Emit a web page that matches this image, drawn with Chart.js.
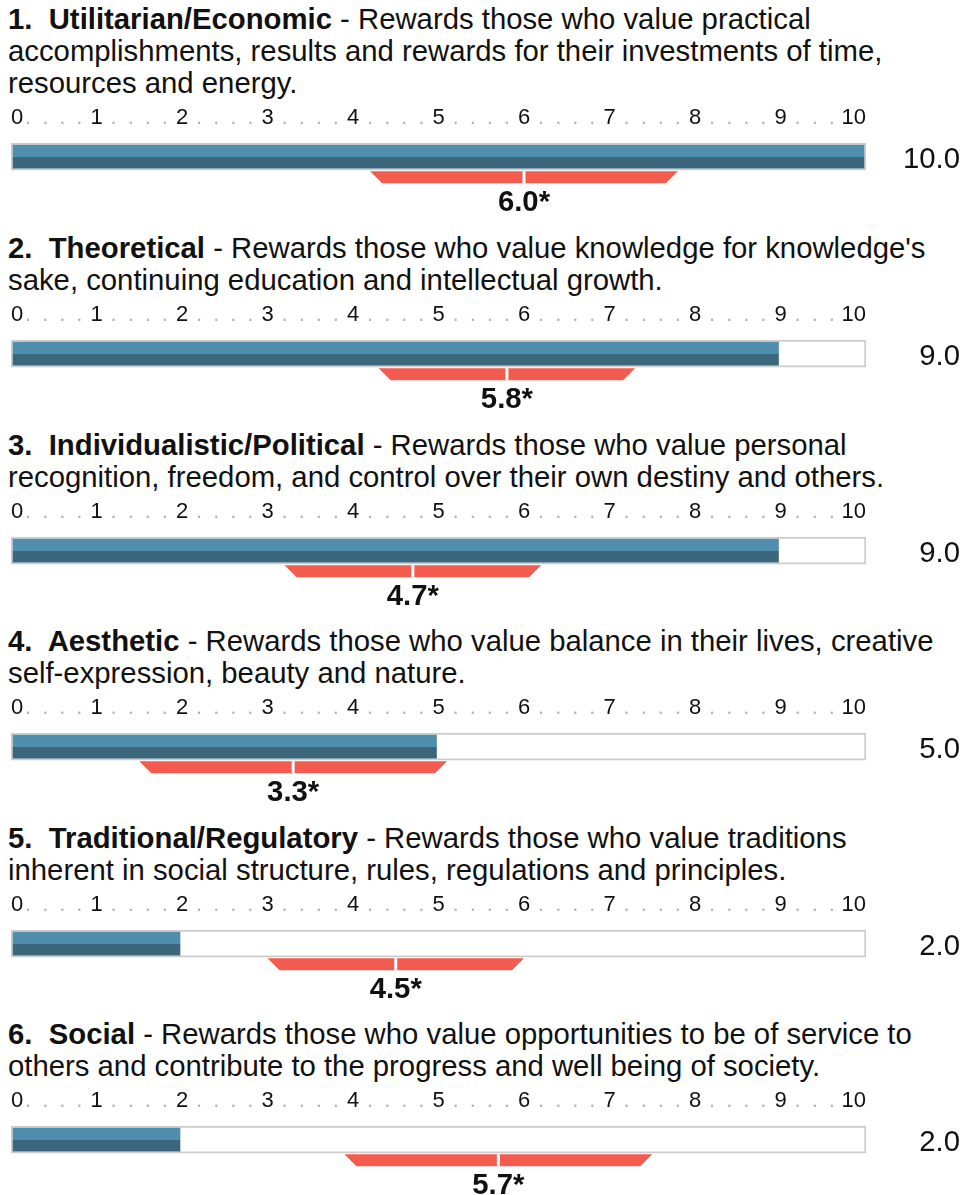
<!DOCTYPE html>
<html>
<head>
<meta charset="utf-8">
<script src="https://cdn.jsdelivr.net/npm/chart.js@4.4.1/dist/chart.umd.min.js"></script>
<style>
  body { margin: 0; background: #fff; width: 964px; height: 1195px; position: relative; overflow: hidden;
         font-family: "Liberation Sans", Arial, sans-serif; color: #111; }
  .head { position: absolute; left: 8px; font-size: 29.3px; line-height: 32px; white-space: pre; transform: translateY(-100%); }
  canvas { position: absolute; left: 0; }
</style>
</head>
<body>
<script>
// Dimensions et descriptions
const categories = [
    'Utilitarian/Economic',
    'Theoretical',
    'Individualistic/Political',
    'Aesthetic',
    'Traditional/Regulatory',
    'Social'
];
const descriptions = [
    'Rewards those who value practical\naccomplishments, results and rewards for their investments of time,\nresources and energy.',
    "Rewards those who value knowledge for knowledge's\nsake, continuing education and intellectual growth.",
    'Rewards those who value personal\nrecognition, freedom, and control over their own destiny and others.',
    'Rewards those who value balance in their lives, creative\nself-expression, beauty and nature.',
    'Rewards those who value traditions\ninherent in social structure, rules, regulations and principles.',
    'Rewards those who value opportunities to be of service to\nothers and contribute to the progress and well being of society.'
];

// Valeurs
const scores = [10, 9, 9, 5, 2, 2];
const means = [6.0, 5.8, 4.7, 3.3, 4.5, 5.7];
const rangeLow = [4.2, 4.3, 3.2, 1.5, 3.0, 3.9];
const rangeHigh = [7.8, 7.3, 6.2, 5.1, 6.0, 7.5];
const tickLabels = ['0', '1', '2', '3', '4', '5', '6', '7', '8', '9', '10'];

const maxScore = tickLabels.length - 1;
const rowY = [117, 314, 511, 707, 904, 1100]; // centre de la ligne des graduations

const LIGHT = '#4f8fad';
const DARK = '#3a677c';
const RED = '#f35b4e';
const FONT = '"Liberation Sans", Arial, sans-serif';

Chart.defaults.font.family = FONT;

// Trapèze rouge, moyenne et valeur à droite
const rangePlugin = {
    id: 'rangeMark',
    afterDatasetsDraw(chart, args, opts) {
        const i = opts.row;
        const x = chart.scales.x;
        const yc = chart.scales.y.getPixelForValue(0);
        const ctx = chart.ctx;
        const top = yc + 14.5, h = 12, inset = 12;
        const xl = x.getPixelForValue(rangeLow[i]);
        const xr = x.getPixelForValue(rangeHigh[i]);
        const xm = x.getPixelForValue(means[i]);

        ctx.save();
        ctx.fillStyle = RED;
        ctx.beginPath();
        ctx.moveTo(xl, top);
        ctx.lineTo(xr, top);
        ctx.lineTo(xr - inset, top + h);
        ctx.lineTo(xl + inset, top + h);
        ctx.closePath();
        ctx.fill();

        ctx.fillStyle = '#fff';
        ctx.fillRect(xm - 1.5, top, 3, h);

        ctx.fillStyle = '#111';
        ctx.textBaseline = 'middle';
        ctx.textAlign = 'center';
        ctx.font = 'bold 29.3px ' + FONT;
        ctx.fillText(means[i].toFixed(1) + '*', xm, top + h + 19.5);

        ctx.textAlign = 'right';
        ctx.font = '29.3px ' + FONT;
        ctx.fillText(scores[i].toFixed(1), chart.width - 4, yc + 3.5);
        ctx.restore();
    }
};

function isWhole(v) {
    return Math.abs(v - Math.round(v)) < 1e-6;
}

// Dégradé à deux tons pour la barre du score
function scoreFill(c) {
    const { ctx, chartArea, scales } = c.chart;
    if (!chartArea) return LIGHT;
    const yc = scales.y.getPixelForValue(0);
    const g = ctx.createLinearGradient(0, yc - 12, 0, yc + 12);
    g.addColorStop(0, LIGHT);
    g.addColorStop(0.5, LIGHT);
    g.addColorStop(0.5, DARK);
    g.addColorStop(1, DARK);
    return g;
}

categories.forEach((name, i) => {
    const head = document.createElement('div');
    head.className = 'head';
    head.style.top = (rowY[i] - 18) + 'px';
    const b = document.createElement('b');
    b.textContent = (i + 1) + '.  ' + name;
    head.appendChild(b);
    head.appendChild(document.createTextNode(' - ' + descriptions[i]));
    document.body.appendChild(head);

    const canvas = document.createElement('canvas');
    canvas.width = 964;
    canvas.height = 125;
    canvas.style.top = (rowY[i] - 19) + 'px';
    document.body.appendChild(canvas);

    new Chart(canvas, {
        type: 'bar',
        data: {
            labels: [name],
            datasets: [
                {
                    data: [scores[i]],
                    backgroundColor: scoreFill,
                    borderColor: 'rgba(0,0,0,0)',
                    borderWidth: 2,
                    borderSkipped: false,
                    barThickness: 27,
                    grouped: false,
                    order: 0
                },
                {
                    data: [maxScore],
                    backgroundColor: '#fff',
                    borderColor: '#cccccc',
                    borderWidth: 2,
                    borderSkipped: false,
                    barThickness: 27,
                    grouped: false,
                    order: 1
                }
            ]
        },
        options: {
            indexAxis: 'y',
            responsive: false,
            animation: false,
            events: [],
            layout: { padding: { top: 7, left: 11, right: 98, bottom: 41 } },
            plugins: {
                legend: { display: false },
                tooltip: { enabled: false },
                rangeMark: { row: i }
            },
            scales: {
                x: {
                    position: 'top',
                    min: 0,
                    max: maxScore,
                    grid: { display: false, drawTicks: false },
                    border: { display: false },
                    ticks: {
                        stepSize: 0.2,
                        autoSkip: false,
                        maxRotation: 0,
                        align: 'inner',
                        padding: 0,
                        font: { size: 22 },
                        color: c => isWhole(c.tick.value) ? '#111' : '#b4b4b4',
                        callback: v => isWhole(v) ? tickLabels[Math.round(v)] : (v > maxScore - 0.3 ? '' : '.')
                    }
                },
                y: { display: false }
            }
        },
        plugins: [rangePlugin]
    });
});
</script>
</body>
</html>
